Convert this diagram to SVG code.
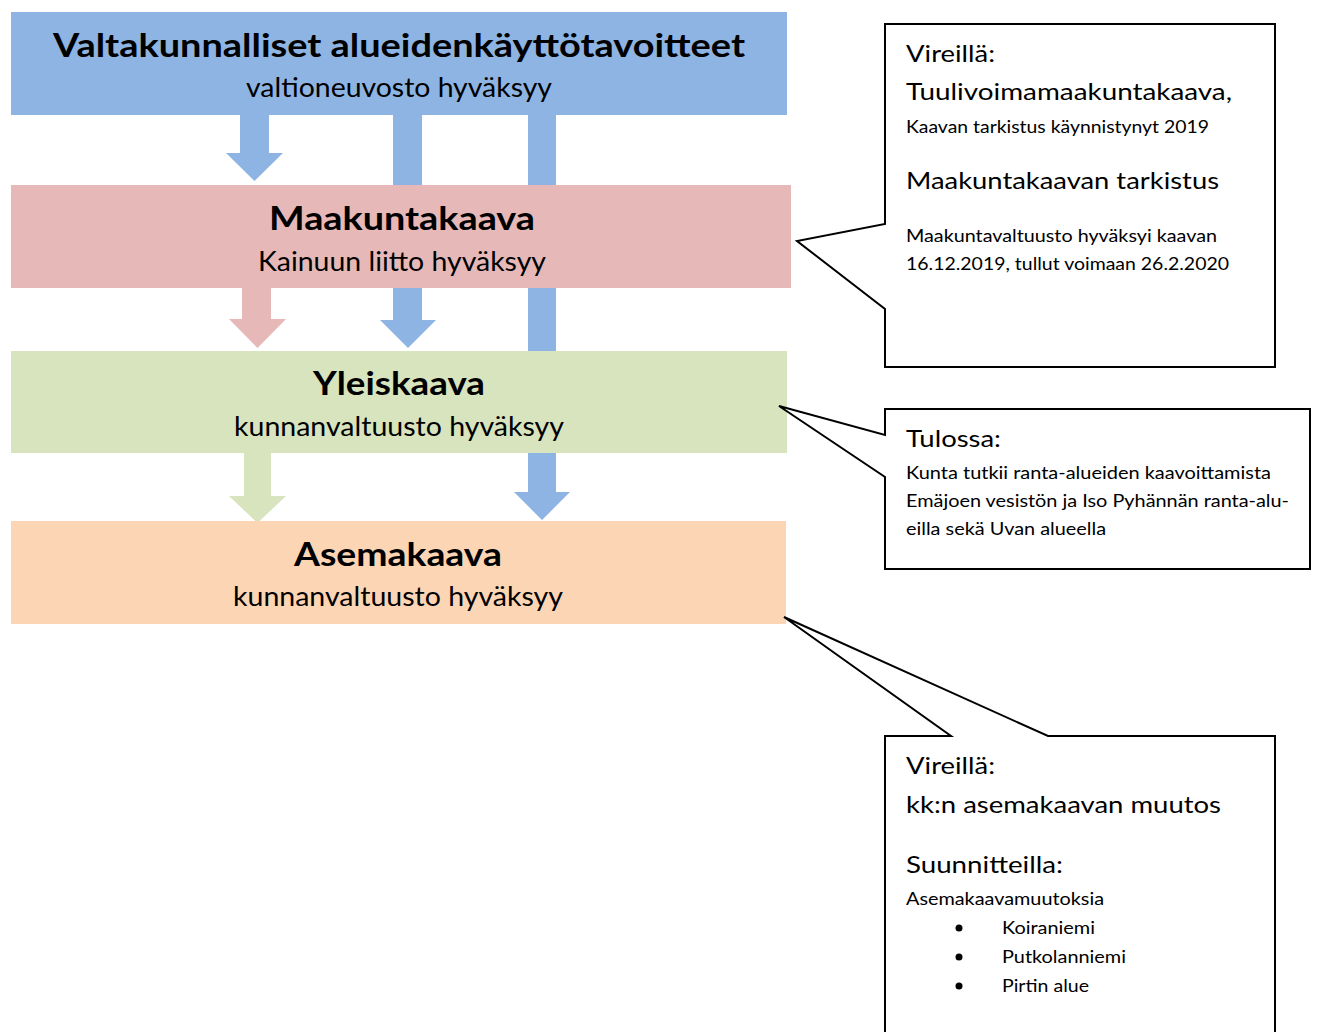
<svg xmlns="http://www.w3.org/2000/svg" width="1319" height="1032" viewBox="0 0 1319 1032">
<style>
text{font-family:Lato,"Liberation Sans",sans-serif;fill:#000}
.t{font-size:32px;font-weight:bold;text-anchor:start}
.s{font-size:26px}
.c1{font-size:23px}
.c2{font-size:18px}
.co{fill:#fff;stroke:#000;stroke-width:2}
</style>
<g id="connectors">
<polygon fill="#8EB4E3" points="240,114 269,114 269,153 283,153 254.5,181 226,153 240,153"/>
<polygon fill="#8EB4E3" points="393,114 422,114 422,320 436,320 408,348 380,320 393,320"/>
<polygon fill="#8EB4E3" points="528,114 556,114 556,492 570,492 542,520 514,492 528,492"/>
<polygon fill="#E6B9B8" points="242,287 271,287 271,319 286,319 257.5,348 229,319 242,319"/>
<polygon fill="#D7E4BD" points="244,452 271,452 271,496 286,496 257.5,523 229,496 244,496"/>
</g>
<g id="valtakunnalliset">
<rect x="11" y="12" width="776" height="103" fill="#8EB4E3"/>
<text class="t" x="53" y="57" textLength="692" lengthAdjust="spacingAndGlyphs">Valtakunnalliset alueidenkäyttötavoitteet</text>
<text class="s" x="246" y="97" textLength="306" lengthAdjust="spacingAndGlyphs">valtioneuvosto hyväksyy</text>
</g>
<g id="maakuntakaava">
<rect x="11" y="185" width="780" height="103" fill="#E6B9B8"/>
<text class="t" x="269" y="230" textLength="266" lengthAdjust="spacingAndGlyphs">Maakuntakaava</text>
<text class="s" x="258" y="271" textLength="288" lengthAdjust="spacingAndGlyphs">Kainuun liitto hyväksyy</text>
</g>
<g id="yleiskaava">
<rect x="11" y="351" width="776" height="102" fill="#D7E4BD"/>
<text class="t" x="313" y="395" textLength="172" lengthAdjust="spacingAndGlyphs">Yleiskaava</text>
<text class="s" x="234" y="436" textLength="330" lengthAdjust="spacingAndGlyphs">kunnanvaltuusto hyväksyy</text>
</g>
<g id="asemakaava">
<rect x="11" y="521" width="775" height="103" fill="#FCD5B5"/>
<text class="t" x="294" y="566" textLength="208" lengthAdjust="spacingAndGlyphs">Asemakaava</text>
<text class="s" x="233" y="606" textLength="330" lengthAdjust="spacingAndGlyphs">kunnanvaltuusto hyväksyy</text>
</g>
<g id="callout-maakunta">
<path class="co" d="M885,24 H1275 V367 H885 V309 L797,241 L885,224 Z"/>
<text class="c1" x="906" y="62" textLength="89" lengthAdjust="spacingAndGlyphs">Vireillä:</text>
<text class="c1" x="906" y="100" textLength="326" lengthAdjust="spacingAndGlyphs">Tuulivoimamaakuntakaava,</text>
<text class="c2" x="906" y="133" textLength="303" lengthAdjust="spacingAndGlyphs">Kaavan tarkistus käynnistynyt 2019</text>
<text class="c1" x="906" y="189" textLength="313" lengthAdjust="spacingAndGlyphs">Maakuntakaavan tarkistus</text>
<text class="c2" x="906" y="242" textLength="311" lengthAdjust="spacingAndGlyphs">Maakuntavaltuusto hyväksyi kaavan</text>
<text class="c2" x="906" y="270" textLength="323" lengthAdjust="spacingAndGlyphs">16.12.2019, tullut voimaan 26.2.2020</text>
</g>
<g id="callout-yleis">
<path class="co" d="M885,409 H1310 V569 H885 V477 L779,406 L885,435 Z"/>
<text class="c1" x="906" y="447" textLength="95" lengthAdjust="spacingAndGlyphs">Tulossa:</text>
<text class="c2" x="906" y="479" textLength="365" lengthAdjust="spacingAndGlyphs">Kunta tutkii ranta-alueiden kaavoittamista</text>
<text class="c2" x="906" y="507" textLength="383" lengthAdjust="spacingAndGlyphs">Emäjoen vesistön ja Iso Pyhännän ranta-alu-</text>
<text class="c2" x="906" y="535" textLength="200" lengthAdjust="spacingAndGlyphs">eilla sekä Uvan alueella</text>
</g>
<g id="callout-asema">
<path class="co" d="M885,736 H951 L784,617 L1048,736 H1275 V1045 H885 Z"/>
<text class="c1" x="906" y="774" textLength="89" lengthAdjust="spacingAndGlyphs">Vireillä:</text>
<text class="c1" x="906" y="813" textLength="315" lengthAdjust="spacingAndGlyphs">kk:n asemakaavan muutos</text>
<text class="c1" x="906" y="873" textLength="157" lengthAdjust="spacingAndGlyphs">Suunnitteilla:</text>
<text class="c2" x="906" y="905" textLength="198" lengthAdjust="spacingAndGlyphs">Asemakaavamuutoksia</text>
<circle cx="959" cy="928" r="3.5"/>
<circle cx="959" cy="957" r="3.5"/>
<circle cx="959" cy="986" r="3.5"/>
<text class="c2" x="1002" y="934" textLength="93" lengthAdjust="spacingAndGlyphs">Koiraniemi</text>
<text class="c2" x="1002" y="963" textLength="124" lengthAdjust="spacingAndGlyphs">Putkolanniemi</text>
<text class="c2" x="1002" y="992" textLength="87" lengthAdjust="spacingAndGlyphs">Pirtin alue</text>
</g>
</svg>
